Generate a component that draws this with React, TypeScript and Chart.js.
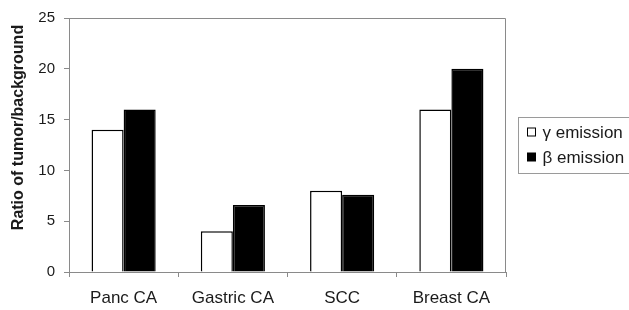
import React, { useEffect, useRef } from "react";
import { Chart, registerables } from "chart.js";

Chart.register(...registerables);

const categories = ["Panc CA", "Gastric CA", "SCC", "Breast CA"];
const gammaValues = [14, 4, 8, 16];
const betaValues = [16, 6.6, 7.6, 20];
const seriesNames = ["γ emission", "β emission"];
const yTickValues = [0, 5, 10, 15, 20, 25];
const yTitle = "Ratio of tumor/background";

const FONT = "Arial, 'Liberation Sans', sans-serif";
const AXIS_GRAY = "#8a8a8a";
const TEXT = "#1a1a1a";

const framePlugin = {
  id: "frame",
  afterDatasetsDraw(chart: any) {
    const { ctx, chartArea: a } = chart;
    ctx.save();
    ctx.strokeStyle = AXIS_GRAY;
    ctx.lineWidth = 1;
    ctx.beginPath();
    ctx.moveTo(a.left, Math.round(a.top) + 0.5);
    ctx.lineTo(Math.round(a.right) - 0.5, Math.round(a.top) + 0.5);
    ctx.lineTo(Math.round(a.right) - 0.5, a.bottom);
    ctx.stroke();
    ctx.restore();
  },
};

const yTitlePlugin = {
  id: "yTitle",
  afterDraw(chart: any) {
    const { ctx, chartArea: a } = chart;
    ctx.save();
    ctx.translate(18.5, a.top + 109.5);
    ctx.rotate(-Math.PI / 2);
    ctx.font = `bold 16px ${FONT}`;
    ctx.fillStyle = TEXT;
    ctx.textAlign = "center";
    ctx.textBaseline = "middle";
    ctx.fillText(yTitle, 0, 0);
    ctx.restore();
  },
};

const legendPlugin = {
  id: "boxLegend",
  afterDraw(chart: any) {
    const { ctx, chartArea: a } = chart;
    const cy = (a.top + a.bottom) / 2;
    const left = Math.round(a.right) + 12.5;
    const top = Math.round(cy - 28) + 0.5;
    const bottom = Math.round(cy + 28) + 0.5;
    ctx.save();
    ctx.strokeStyle = "#9a9a9a";
    ctx.lineWidth = 1;
    ctx.strokeRect(left, top, 200, bottom - top);
    ctx.font = `17px ${FONT}`;
    ctx.textBaseline = "middle";
    ctx.textAlign = "left";
    chart.data.datasets.forEach((ds: any, i: number) => {
      const iy = cy - 13 + i * 25;
      const bx = left + 9;
      ctx.fillStyle = ds.backgroundColor;
      ctx.fillRect(bx, iy - 4, 8, 8);
      ctx.strokeStyle = "#000";
      ctx.lineWidth = 1;
      ctx.strokeRect(bx, iy - 4, 8, 8);
      ctx.fillStyle = TEXT;
      ctx.fillText(ds.label, bx + 15, iy + 1);
    });
    ctx.restore();
  },
};

export default function App() {
  const ref = useRef<HTMLCanvasElement | null>(null);

  useEffect(() => {
    if (!ref.current) return;
    const chart = new Chart(ref.current, {
      type: "bar",
      data: {
        labels: categories,
        datasets: [
          {
            label: seriesNames[0],
            data: gammaValues,
            backgroundColor: "#ffffff",
            borderColor: "#000000",
            borderWidth: 1.5,
            borderSkipped: "bottom",
            categoryPercentage: 0.587,
            barPercentage: 1,
          },
          {
            label: seriesNames[1],
            data: betaValues,
            backgroundColor: "#000000",
            borderColor: "#000000",
            borderWidth: 1.5,
            borderSkipped: "bottom",
            categoryPercentage: 0.587,
            barPercentage: 1,
          },
        ],
      },
      options: {
        responsive: false,
        animation: false,
        layout: { padding: { left: 0, right: 123, top: 18, bottom: 0 } },
        plugins: {
          legend: { display: false },
          tooltip: { enabled: false },
        },
        scales: {
          x: {
            afterFit: (scale: any) => {
              scale.height = 38;
            },
            grid: {
              display: true,
              offset: true,
              drawOnChartArea: false,
              drawTicks: true,
              tickLength: 5,
              color: AXIS_GRAY,
            },
            border: { display: true, color: AXIS_GRAY, width: 1 },
            ticks: {
              color: TEXT,
              font: { family: FONT, size: 17 },
              padding: 11,
              maxRotation: 0,
            },
          },
          y: {
            min: 0,
            max: 25,
            afterFit: (scale: any) => {
              scale.width = 69;
            },
            afterBuildTicks: (scale: any) => {
              scale.ticks = yTickValues.map((v) => ({ value: v }));
            },
            grid: {
              display: true,
              drawOnChartArea: false,
              drawTicks: true,
              tickLength: 5,
              color: AXIS_GRAY,
            },
            border: { display: true, color: AXIS_GRAY, width: 1 },
            ticks: {
              color: TEXT,
              font: { family: FONT, size: 15 },
              padding: 9,
            },
            title: { display: false },
          },
        },
      },
      plugins: [framePlugin, yTitlePlugin, legendPlugin],
    });
    return () => chart.destroy();
  }, []);

  return (
    <div style={{ position: "fixed", left: 0, top: 0, width: 629, height: 310, background: "#fff" }}>
      <canvas ref={ref} width={629} height={310} style={{ display: "block" }} />
    </div>
  );
}
